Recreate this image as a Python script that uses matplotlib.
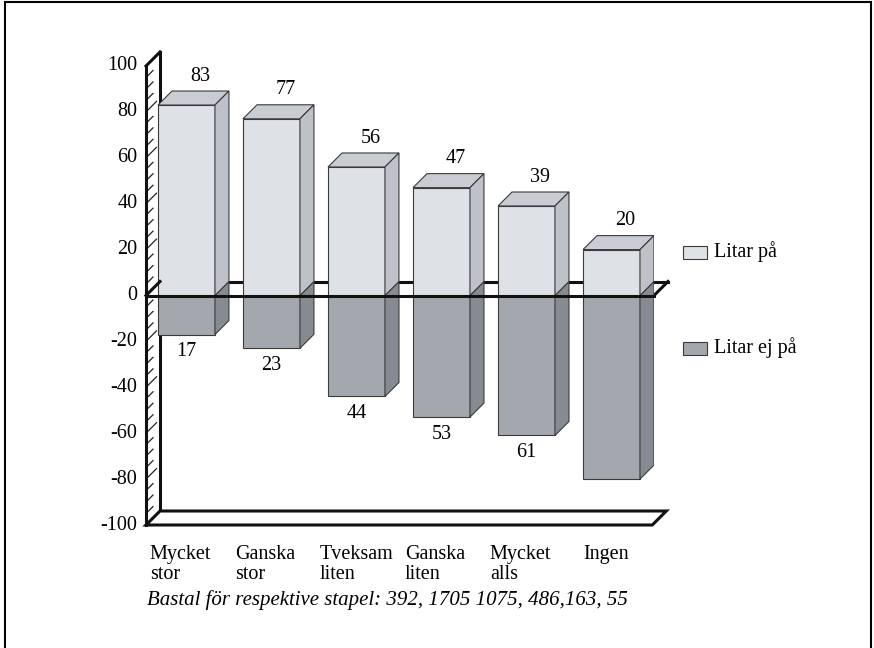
import matplotlib.pyplot as plt
from matplotlib.patches import Rectangle

categories = ['Mycket\nstor', 'Ganska\nstor', 'Tveksam\nliten', 'Ganska\nliten', 'Mycket\nalls', 'Ingen']
litar_pa = [83, 77, 56, 47, 39, 20]
litar_ej_pa = [17, 23, 44, 53, 61, 80]
# the last bar carries no value label in the original
ej_labels = ['17', '23', '44', '53', '61', '']
yticks = [100, 80, 60, 40, 20, 0, -20, -40, -60, -80, -100]
caption = 'Bastal för respektive stapel: 392, 1705 1075, 486,163, 55'

plt.rcParams['font.family'] = ['Liberation Serif', 'DejaVu Serif']
fs = 14.5

c_pos_front = '#dee1e6'
c_pos_top = '#c9ccd2'
c_pos_side = '#bec1c7'
c_neg_front = '#a3a8af'
c_neg_side = '#868b92'
edge = '#3a3a3a'

fig = plt.figure(figsize=(8.74, 6.48), dpi=100)
ax = fig.add_axes([146 / 874, 1 - 525 / 648, (654 - 146) / 874, (525 - 66) / 648])
ax.set_xlim(-0.476, 5.5)
ax.set_ylim(-100, 100)
ax.axis('off')

# 3d offset (depth) in data units
dx = 14 / 85
dy = 6.1
x0 = -0.476
xr = 5.5
w = 0.67

# wall
ax.plot([x0 + dx, x0 + dx], [-100 + dy, 100 + dy], color='#111', lw=2.2, clip_on=False, zorder=1)
ax.plot([x0, x0 + dx], [100, 100 + dy], color='#111', lw=2.2, clip_on=False, zorder=1)
for y in range(-95, 100, 5):
    f = 0.75 if y % 20 == 0 else 0.5
    ax.plot([x0, x0 + f * dx], [y, y + f * dy], color='#222', lw=0.9, clip_on=False, zorder=1)

# floor
ax.fill([x0, xr - 0.02, xr - 0.02 + dx, x0 + dx], [-100, -100, -100 + dy, -100 + dy],
        facecolor='white', edgecolor='#111', lw=2.2, clip_on=False, zorder=1)

# zero plane back
ax.plot([x0 + dx, xr + dx], [dy, dy], color='#111', lw=2.2, clip_on=False, zorder=2)
ax.plot([xr, xr + dx], [0, dy], color='#111', lw=2.2, clip_on=False, zorder=2)
ax.plot([x0, x0 + dx], [0, dy], color='#111', lw=2.2, clip_on=False, zorder=7)

for i in range(len(categories)):
    left = i - w / 2
    right = left + w
    v = litar_pa[i]
    n = litar_ej_pa[i]
    # negative part
    ax.fill([left, right, right, left], [-n, -n, 0, 0], facecolor=c_neg_front, edgecolor=edge, lw=0.8, zorder=3)
    ax.fill([right, right + dx, right + dx, right], [-n, -n + dy, dy, 0],
            facecolor=c_neg_side, edgecolor=edge, lw=0.8, zorder=3)
    # positive part
    ax.fill([left, right, right, left], [0, 0, v, v], facecolor=c_pos_front, edgecolor=edge, lw=0.8, zorder=4)
    ax.fill([left, left + dx, right + dx, right], [v, v + dy, v + dy, v],
            facecolor=c_pos_top, edgecolor=edge, lw=0.8, zorder=4)
    ax.fill([right, right + dx, right + dx, right], [0, dy, v + dy, v],
            facecolor=c_pos_side, edgecolor=edge, lw=0.8, zorder=4)
    ax.text(i + dx, v + dy + 6.5, str(v), ha='center', va='center', fontsize=fs, zorder=8)
    ax.text(i, -n - 7.5, ej_labels[i], ha='center', va='center', fontsize=fs, zorder=8)
    lx = left - 0.095 if i < len(categories) - 1 else left + 0.0
    ax.text(lx, -108.8, categories[i], ha='left', va='top', fontsize=fs, linespacing=1.05)

# zero plane front and wall front
ax.plot([x0, xr], [0, 0], color='#111', lw=2.2, clip_on=False, zorder=7)
ax.plot([x0, x0], [-100, 100], color='#111', lw=2.2, clip_on=False, zorder=7)

for t in yticks:
    ax.text(x0 - 0.1, t, str(t), ha='right', va='center', fontsize=fs)

ax.text(x0 + 0.01, -132.5, caption, ha='left', va='center', fontsize=15, style='italic')

# legend
fig.patches.append(Rectangle((683 / 874, 1 - 259 / 648), 24 / 874, 13 / 648, transform=fig.transFigure,
                             facecolor=c_pos_front, edgecolor=edge, lw=0.8))
fig.patches.append(Rectangle((683 / 874, 1 - 355 / 648), 24 / 874, 13 / 648, transform=fig.transFigure,
                             facecolor=c_neg_front, edgecolor=edge, lw=0.8))
fig.text(714 / 874, 1 - 252 / 648, 'Litar på', ha='left', va='center', fontsize=fs)
fig.text(714 / 874, 1 - 348 / 648, 'Litar ej på', ha='left', va='center', fontsize=fs)

# outer frame
fig.patches.append(Rectangle((5 / 874, -0.01), 866 / 874, 1 - 2 / 648 + 0.01, transform=fig.transFigure,
                             facecolor='none', edgecolor='black', lw=1.5))

fig.savefig('out.png', dpi=100)
